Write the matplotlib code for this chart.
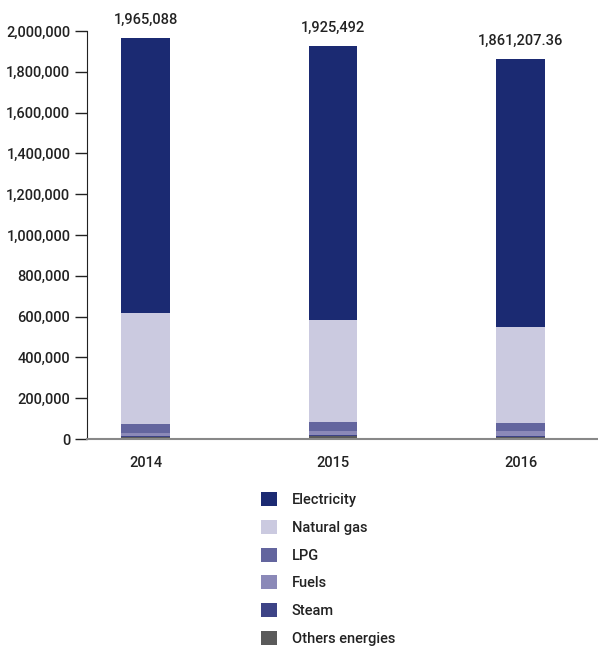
import matplotlib
matplotlib.use("Agg")
import matplotlib.pyplot as plt
from matplotlib.patches import Patch
from matplotlib.ticker import FuncFormatter

plt.rcParams['font.family'] = ['Roboto', 'DejaVu Sans']
plt.rcParams['font.weight'] = 'medium'

years = ['2014', '2015', '2016']
others = [11000, 16000, 11000]
steam = [3000, 3000, 3000]
fuels = [15000, 20000, 24000]
lpg = [44000, 44000, 39000]
natural_gas = [544000, 500000, 472000]
totals = [1965088, 1925492, 1861207.36]
total_labels = ['1,965,088', '1,925,492', '1,861,207.36']

series = [
    ('Others energies', others, '#5a5a5a'),
    ('Steam', steam, '#3d4386'),
    ('Fuels', fuels, '#8b89b8'),
    ('LPG', lpg, '#63659e'),
    ('Natural gas', natural_gas, '#cbcae0'),
]
lower = [a + b + c + d + e for a, b, c, d, e in zip(others, steam, fuels, lpg, natural_gas)]
electricity = [t - l for t, l in zip(totals, lower)]
series.append(('Electricity', electricity, '#1b2a72'))

fig = plt.figure(figsize=(5.98, 6.46), dpi=100)
ax = fig.add_axes([0.1455, 0.3204, 0.8545, 0.6316])

x = list(range(len(years)))
bottom = [0] * len(years)
for name, vals, col in series:
    ax.bar(x, vals, width=0.26, bottom=bottom, color=col, linewidth=0)
    bottom = [b + v for b, v in zip(bottom, vals)]

for xi, t, lab in zip(x, totals, total_labels):
    ax.text(xi, t + 55000, lab, ha='center', va='bottom', fontsize=10.5, color='#222222')

ax.set_xlim(-0.312, 2.413)
ax.set_ylim(0, 2000000)
ax.set_yticks(range(0, 2000001, 200000))
ax.yaxis.set_major_formatter(FuncFormatter(lambda v, p: f'{int(v):,}'))
ax.set_xticks(x)
ax.set_xticklabels(years)
ax.tick_params(axis='y', length=9, width=1, color='#222222', labelsize=10.5, labelcolor='#222222', pad=3)
ax.tick_params(axis='x', length=0, labelsize=10.5, labelcolor='#222222', pad=12)
for s in ['top', 'right']:
    ax.spines[s].set_visible(False)
ax.spines['left'].set_color('#222222')
ax.spines['bottom'].set_color('#888888')
ax.spines['bottom'].set_linewidth(1.5)

handles = [Patch(facecolor=col, label=name) for name, vals, col in reversed(series)]
fig.legend(handles=handles, loc='upper left', bbox_to_anchor=(0.415, 0.258), frameon=False,
           fontsize=10.5, handlelength=1.1, handleheight=1.1, labelspacing=0.87, handletextpad=1.0,
           labelcolor='#222222')

fig.savefig('out.png', dpi=100)
